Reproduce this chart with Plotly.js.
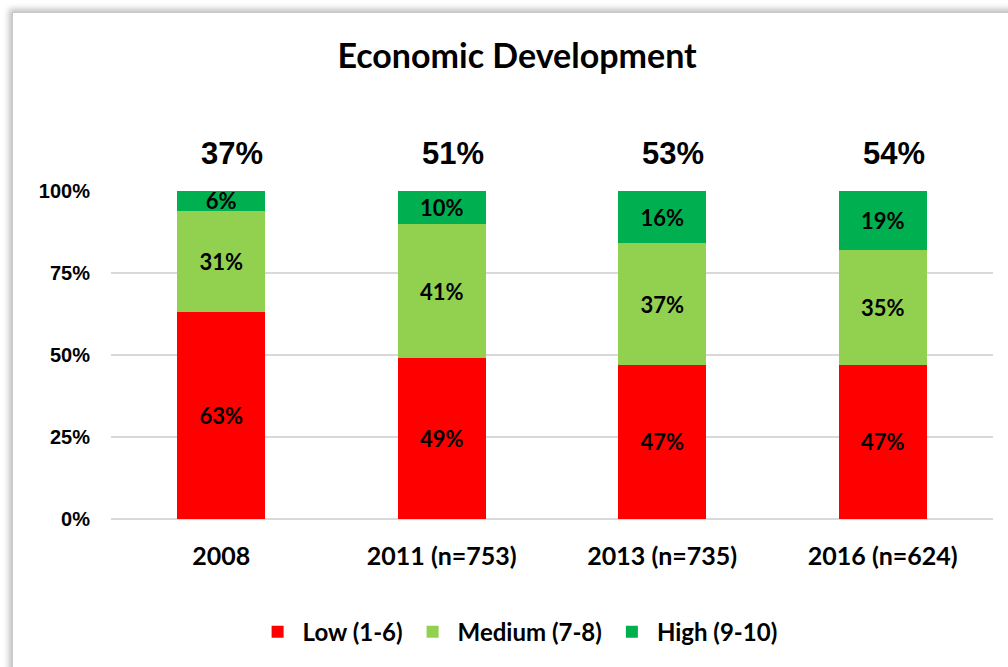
<!DOCTYPE html>
<html><head><meta charset="utf-8">
<script src="https://cdn.plot.ly/plotly-3.0.1.min.js"></script>
<style>
html,body{margin:0;padding:0;background:#fff;overflow:hidden;}
#frame{position:absolute;left:12px;top:12px;width:1100px;height:800px;border:1px solid #c8c8c8;box-shadow:-3px -3px 6px rgba(0,0,0,0.25);background:#fff;}
#chart{position:absolute;left:0;top:0;width:1008px;height:667px;}
</style></head>
<body>
<div id="frame"></div>
<div id="chart"></div>
<script>
const categories = ["2008", "2011 (n=753)", "2013 (n=735)", "2016 (n=624)"];
const lowValues = [63, 49, 47, 47];
const mediumValues = [31, 41, 37, 35];
const highValues = [6, 10, 16, 18];
const lowLabels = ["63%", "49%", "47%", "47%"];
const mediumLabels = ["31%", "41%", "37%", "35%"];
const highLabels = ["6%", "10%", "16%", "19%"];
const topLabels = ["37%", "51%", "53%", "54%"];
const yTicks = [0, 25, 50, 75, 100];
const yTickLabels = ["0%", "25%", "50%", "75%", "100%"];

const cal = "Lato, Carlito, Calibri, sans-serif";
const labelFont = {family: cal, size: 22, color: "#000", weight: "bold"};
function series(name, vals, labels, color) {
  return {type: "bar", name: name, x: categories, y: vals, text: labels,
    textposition: "inside", insidetextanchor: "middle", constraintext: "none", textangle: 0,
    textfont: labelFont, marker: {color: color}, hoverinfo: "skip"};
}
const data = [
  series("Low (1-6)", lowValues, lowLabels, "#FF0000"),
  series("Medium (7-8)", mediumValues, mediumLabels, "#92D050"),
  series("High (9-10)", highValues, highLabels, "#00B050")
];
const annotations = categories.map((c, i) => ({
  x: i, y: 100, xref: "x", yref: "y", text: "<b>" + topLabels[i] + "</b>",
  showarrow: false, yanchor: "bottom", yshift: 18, xshift: 11,
  font: {family: "Liberation Sans, Arial", size: 31, color: "#000"}
}));
const layout = {
  width: 1008, height: 667,
  paper_bgcolor: "rgba(0,0,0,0)", plot_bgcolor: "rgba(0,0,0,0)",
  barmode: "stack", bargap: 0.6,
  margin: {l: 111, r: 15, t: 191, b: 148},
  title: {text: "<b>Economic Development</b>", x: 0.513, xanchor: "center", y: 0.916, yanchor: "middle",
    font: {family: cal, size: 34, color: "#000"}},
  xaxis: {type: "category", range: [-0.5, 3.5], autorange: false, showgrid: false, zeroline: false, showline: false, ticks: "",
    ticklabelstandoff: 20,
    tickfont: {family: cal, size: 25, color: "#000", weight: "bold"}},
  yaxis: {range: [0, 100], autorange: false, tickvals: yTicks, ticktext: yTickLabels, showgrid: true,
    gridcolor: "#d9d9d9", gridwidth: 1.5, zeroline: true, zerolinecolor: "#d9d9d9", zerolinewidth: 1.5,
    showline: false, ticks: "", ticklabelstandoff: 20,
    tickfont: {family: "Liberation Sans, Arial", size: 20, color: "#000", weight: "bold"}},
  legend: {orientation: "h", x: 0.461, xanchor: "center", y: -0.345, yanchor: "middle",
    font: {family: cal, size: 24, color: "#000", weight: "bold"},
    itemwidth: 40, traceorder: "normal"},
  annotations: annotations,
  showlegend: true
};
Plotly.newPlot("chart", data, layout, {displayModeBar: false, staticPlot: true});
</script>
</body></html>
